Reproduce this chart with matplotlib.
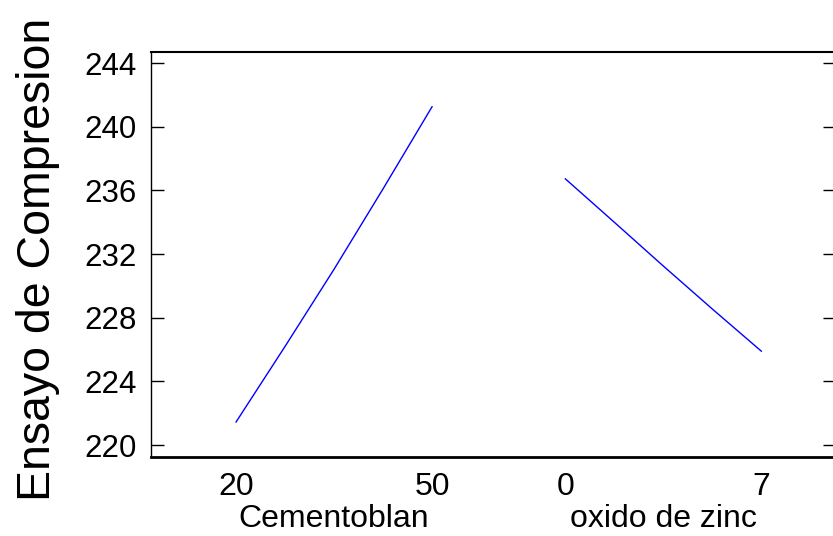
import numpy as np
import matplotlib
matplotlib.use("Agg")
import matplotlib.pyplot as plt

plt.rcParams['font.family'] = ['Liberation Sans', 'DejaVu Sans']

# main effects
cemento_levels = [20, 27.5, 35, 42.5, 50]
cemento_resp = [221.45, 226.2, 231.05, 236.1, 241.26]
zinc_levels = [0, 1.75, 3.5, 5.25, 7]
zinc_resp = [236.73, 234.0, 231.25, 228.55, 225.9]
factor_names = ['Cementoblan', 'oxido de zinc']
y_ticks = [220, 224, 228, 232, 236, 240, 244]

W, H = 833, 536
fig = plt.figure(figsize=(W / 100, H / 100), dpi=100)
# axes box in pixels: left 151, right 836, top 52, bottom 457
ax = fig.add_axes([151 / W, (H - 457) / H, (836 - 151) / W, (457 - 52) / H])

offsets = [0.0, 1.68]
tick_pos, tick_lab = [], []
for lev, resp, off in zip([cemento_levels, zinc_levels], [cemento_resp, zinc_resp], offsets):
    lev = np.array(lev, dtype=float)
    pos = (lev - lev.min()) / (lev.max() - lev.min()) + off
    ax.plot(pos, resp, color='#0000ff', lw=1.0)
    tick_pos += [pos[0], pos[-1]]
    tick_lab += ['%g' % lev[0], '%g' % lev[-1]]

ax.set_xlim(-0.434, 3.061)
ax.set_ylim(219.25, 244.7)
ax.set_yticks(y_ticks)
ax.set_xticks(tick_pos)
ax.set_xticklabels(tick_lab)
ax.tick_params(axis='y', direction='in', length=9.4, width=1, labelsize=22.5,
               pad=10, right=True)
ax.tick_params(axis='x', length=0, labelsize=23, pad=11)

ax.spines['left'].set_linewidth(1.0)
ax.spines['top'].set_linewidth(1.5)
ax.spines['bottom'].set_linewidth(2.0)
ax.spines['right'].set_linewidth(1.0)

# factor names under each pair of levels
for name, off in zip(factor_names, offsets):
    xc = 236 + (off + 0.5) * 196
    fig.text(xc / W, (H - 519) / H, name, ha='center', va='center', fontsize=23)

fig.text(38 / W, (H - 259) / H, 'Ensayo de Compresion', rotation=90,
         ha='center', va='center', fontsize=33.5)

fig.savefig('out.png', dpi=100)
